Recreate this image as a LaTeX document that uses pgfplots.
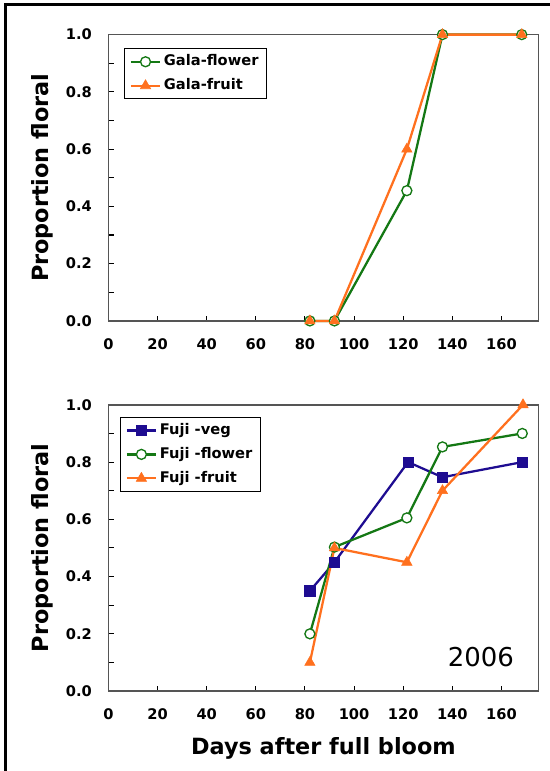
\documentclass[border=0pt]{standalone}
\usepackage{fontspec}
\setmainfont{DejaVu Sans}
\usepackage{pgfplots}
\pgfplotsset{compat=1.18}

\definecolor{fgreen}{RGB}{20,120,20}
\definecolor{forange}{RGB}{255,112,30}
\definecolor{fblue}{RGB}{30,12,145}
\definecolor{axgray}{RGB}{85,85,85}

\pgfplotsset{
  panel/.style={
    scale only axis, width=322.7pt, height=215pt,
    xmin=0, xmax=175, ymin=0, ymax=1,
    xtick={0,20,40,60,80,100,120,140,160},
    ytick={0,0.2,0.4,0.6,0.8,1},
    minor ytick={0.1,0.3,0.5,0.7,0.9},
    xtick pos=bottom, ytick pos=left,
    tick align=inside, major tick length=4pt, minor tick length=4pt,
    axis line style={draw=axgray, line width=1.1pt},
    every tick/.style={draw=black, line width=0.8pt},
    /pgf/number format/assume math mode=true,
    ticklabel style={font=\fontsize{11}{13}\selectfont\bfseries},
    xticklabel shift=9.5pt,
    yticklabel shift=9pt,
    yticklabel={\pgfmathprintnumber[fixed,fixed zerofill,precision=1]{\tick}},
    ylabel={Proportion floral},
    ylabel style={at={(axis description cs:-0.155,0.5)}, anchor=center, rotate=0,
      font=\fontsize{16.8}{19}\selectfont\bfseries},
    xlabel style={at={(axis description cs:0.5,-0.199)}, anchor=center,
      font=\fontsize{16.8}{19}\selectfont\bfseries},
    legend cell align=left,
    legend image code/.code={\draw[mark repeat=2,mark phase=2,##1] plot coordinates {(0pt,0pt) (11pt,0pt) (22pt,0pt)};},
    legend style={anchor=north west, draw=black, line width=0.9pt,
      inner xsep=4pt, inner ysep=2.25pt, row sep=3pt,
      font=\fontsize{11}{13}\selectfont\bfseries,
      nodes={inner sep=2pt, text height=8.5pt, text depth=2.5pt}},
    clip=false,
  },
  gre/.style={color=fgreen, line width=1.7pt, mark=*, mark size=3.75pt,
    mark options={fill=white, draw=fgreen, line width=1pt}},
  ora/.style={color=forange, line width=1.7pt, mark=triangle*, mark size=4.5pt,
    mark options={fill=forange, line width=0.4pt}},
  blu/.style={color=fblue, line width=1.7pt, mark=square*, mark size=3.9pt,
    mark options={fill=fblue, line width=0.4pt}},
}

\begin{document}
\begin{tikzpicture}
\useasboundingbox (-81.5pt,-338pt) rectangle (331pt,241pt);

% Gala
\begin{axis}[panel, at={(0,0)},
  legend style={at={(0.0356,0.9526)}}]
\addplot[gre] coordinates {(82,0) (92,0) (121.5,0.455) (136,1.0) (168.3,1.0)};
\addplot[ora] coordinates {(82,0) (92,0) (121.5,0.6) (136,1.0) (168.3,1.0)};
\legend{Gala-flower, Gala-fruit}
\end{axis}

% Fuji
\begin{axis}[panel, at={(0,-278pt)},
  xlabel={Days after full bloom},
  legend style={at={(0.026,0.958)}}]
\addplot[blu] coordinates {(82,0.35) (92,0.45) (122,0.80) (136,0.747) (168.6,0.80)};
\addplot[gre] coordinates {(82,0.20) (92,0.503) (121.5,0.605) (136,0.853) (168.5,0.90)};
\addplot[ora] coordinates {(82,0.10) (92,0.50) (121.5,0.45) (136,0.70) (168.8,1.0)};
\legend{Fuji -veg, Fuji -flower, Fuji -fruit}
\node[anchor=base east, font=\fontsize{19.5}{22}\selectfont, inner sep=0pt] at (axis cs:165.2,0.085) {2006};
\end{axis}

\draw[line width=2.25pt] (-77pt,-345pt) -- (-77pt,237.25pt) -- (340pt,237.25pt);
\end{tikzpicture}
\end{document}
